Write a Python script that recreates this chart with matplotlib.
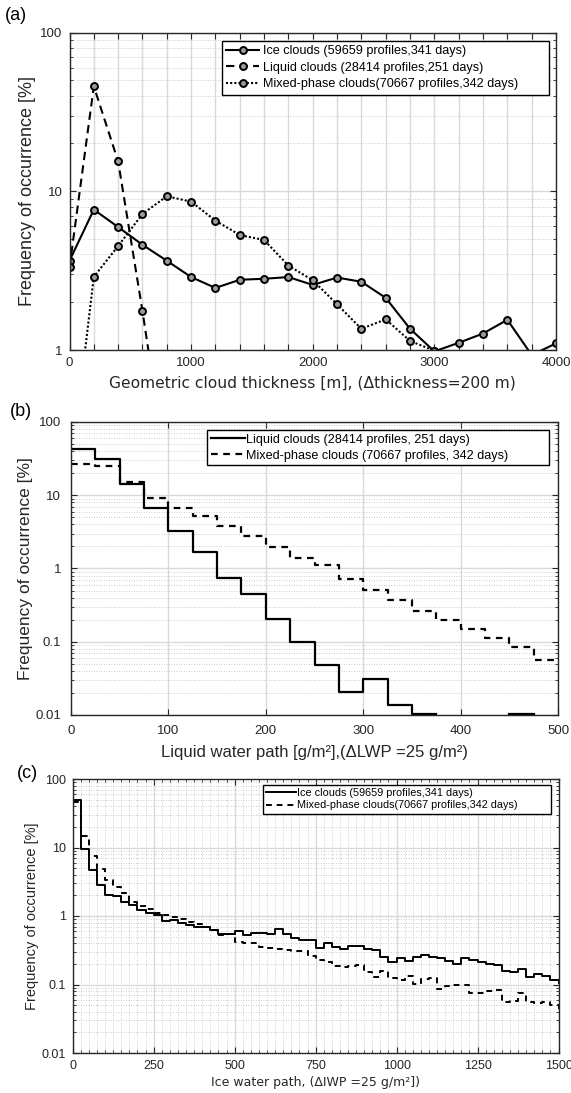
import matplotlib
matplotlib.use('Agg')
import matplotlib.pyplot as plt
import numpy as np
from matplotlib.ticker import FuncFormatter, LogLocator, NullFormatter, MultipleLocator

plt.rcParams['font.family'] = ['Liberation Sans', 'DejaVu Sans']

# (a) geometric thickness, bins of 200 m
thick = [0, 200, 400, 600, 800, 1000, 1200, 1400, 1600, 1800, 2000,
         2200, 2400, 2600, 2800, 3000, 3200, 3400, 3600, 3800, 4000]
ice_thick = [3.65, 7.66, 5.95, 4.6, 3.65, 2.88, 2.46, 2.77, 2.81, 2.88, 2.57,
             2.86, 2.69, 2.13, 1.36, 0.98, 1.11, 1.27, 1.55, 0.93, 1.1]
liq_x = [0, 200, 400, 600, 800]
liq_thick = [3.31, 45.8, 15.4, 1.76, 0.17]
mix_x = [0, 200, 400, 600, 800, 1000, 1200, 1400, 1600, 1800, 2000,
         2200, 2400, 2600, 2800, 3000, 3200]
mix_thick = [0.15, 2.89, 4.52, 7.19, 9.3, 8.6, 6.53, 5.3, 4.93, 3.4, 2.75,
             1.94, 1.36, 1.56, 1.14, 0.99, 0.6]

# (b) liquid water path, bins of 25 g/m2
lwp_edges = np.arange(0, 501, 25)
liq_lwp = [42.4, 31, 14.3, 6.65, 3.3, 1.69, 0.746, 0.442, 0.206, 0.1,
           0.0485, 0.0206, 0.0306, 0.0138, 0.0103, np.nan, np.nan, np.nan, 0.0103, np.nan]
mix_lwp = [26.5, 24.9, 15.0, 9.3, 6.7, 5.2, 3.78, 2.76, 1.97, 1.41,
           1.1, 0.716, 0.507, 0.37, 0.265, 0.2, 0.15, 0.113, 0.0845, 0.056]

# (c) ice water path, bins of 25 g/m2
iwp_edges = np.arange(0, 1501, 25)
ice_iwp = [50, 9.35, 4.7, 2.85, 2.05, 1.95, 1.6, 1.45, 1.22, 1.1,
           1.05, 0.85, 0.87, 0.8, 0.73, 0.68, 0.69, 0.63, 0.55, 0.55,
           0.6, 0.53, 0.56, 0.56, 0.54, 0.65, 0.55, 0.48, 0.45, 0.44,
           0.34, 0.41, 0.35, 0.33, 0.36, 0.37, 0.33, 0.32, 0.25, 0.21,
           0.24, 0.22, 0.25, 0.27, 0.25, 0.24, 0.22, 0.2, 0.24, 0.23,
           0.21, 0.2, 0.19, 0.16, 0.15, 0.17, 0.13, 0.14, 0.135, 0.116]
mix_iwp = [46, 14.5, 7.4, 4.9, 3.4, 2.64, 2.2, 1.6, 1.4, 1.25,
           1.12, 1.03, 0.97, 0.9, 0.82, 0.76, 0.7, 0.63, 0.52, 0.55,
           0.42, 0.41, 0.4, 0.35, 0.34, 0.33, 0.32, 0.31, 0.31, 0.26,
           0.23, 0.21, 0.185, 0.18, 0.185, 0.19, 0.15, 0.13, 0.16, 0.125,
           0.118, 0.133, 0.103, 0.12, 0.125, 0.087, 0.095, 0.098, 0.098, 0.076,
           0.074, 0.08, 0.083, 0.056, 0.057, 0.074, 0.055, 0.053, 0.055, 0.05]
ice_end, mix_end = 0.105, 0.038

W, H = 571, 1093
fig = plt.figure(figsize=(W / 100, H / 100), dpi=100)


def axes_px(l, t, r, b):
    return fig.add_axes([l / W, 1 - b / H, (r - l) / W, (b - t) / H])


def style(ax, tsize, pad):
    ax.set_yscale('log')
    ax.yaxis.set_major_locator(LogLocator(base=10))
    ax.yaxis.set_minor_locator(LogLocator(base=10, subs=np.arange(2, 10)))
    ax.yaxis.set_minor_formatter(NullFormatter())
    ax.yaxis.set_major_formatter(FuncFormatter(lambda v, p: '%g' % v))
    ax.tick_params(which='both', direction='in', top=True, right=True,
                   labelsize=tsize, colors='#262626', pad=pad)
    ax.tick_params(which='major', length=4, width=0.8)
    ax.tick_params(which='minor', length=2, width=0.6)
    for s in ax.spines.values():
        s.set_color('#262626')
        s.set_linewidth(1.0)
    ax.grid(True, which='major', color='#d9d9d9', lw=1.0, ls='-')
    ax.grid(True, which='minor', axis='y', color='#bdbdbd', lw=0.6, ls=(0, (1, 2)))
    ax.set_axisbelow(True)


def legend_px(ax, l, t, r, lw_ax, fs, **kw):
    # legend box placed from pixel edges; expand mode leaves blank room on the right
    x0, x1 = ax.get_position().x0 * W, ax.get_position().x1 * W
    y1 = (1 - ax.get_position().y1) * H
    y0 = (1 - ax.get_position().y0) * H
    bx = (l - x0) / (x1 - x0)
    bw = (r - l) / (x1 - x0)
    top = 1 - (t - y1) / (y0 - y1)
    return ax.legend(loc='upper left', bbox_to_anchor=(bx, 0, bw, top), mode='expand',
                     borderaxespad=0, fontsize=fs, fancybox=False, edgecolor='k',
                     framealpha=1, **kw)


# ---- (a)
ax1 = axes_px(69.5, 32.5, 556, 350)
style(ax1, 9.5, 5)
mk = dict(marker='o', ms=5, mfc='#9a9a9a', mec='k', mew=1.4, color='k', lw=1.5)
ax1.plot(thick, ice_thick, ls='-', label='Ice clouds (59659 profiles,341 days)', **mk)
ax1.plot(liq_x, liq_thick, ls=(0, (4, 2.5)), label='Liquid clouds (28414 profiles,251 days)', **mk)
ax1.plot(mix_x, mix_thick, ls=(0, (1, 1)), label='Mixed-phase clouds(70667 profiles,342 days)', **mk)
ax1.set_xlim(0, 4000)
ax1.set_ylim(1, 100)
ax1.xaxis.set_major_locator(MultipleLocator(200))
ax1.xaxis.set_major_formatter(FuncFormatter(lambda v, p: '%d' % v if v % 1000 == 0 else ''))
ax1.set_xlabel('Geometric cloud thickness [m], (\u0394thickness=200 m)',
               family='DejaVu Sans', fontsize=11.2, color='#262626', labelpad=5)
ax1.set_ylabel('Frequency of occurrence [%]', fontsize=13, color='#262626', labelpad=3)
legend_px(ax1, 222, 41, 549, 1, 9.1, handlelength=2.6, handletextpad=0.3,
          labelspacing=0.35, borderpad=0.35)
fig.text(5 / W, 1 - 15 / H, '(a)', fontsize=13, va='center', ha='left')

# ---- (b)
ax2 = axes_px(71, 422, 558, 715)
style(ax2, 9.5, 7)
ax2.step(lwp_edges, liq_lwp + [liq_lwp[-1]], where='post', color='k', lw=1.6,
         label='Liquid clouds (28414 profiles, 251 days)')
ax2.step(lwp_edges, mix_lwp + [mix_lwp[-1]], where='post', color='k', lw=1.6,
         ls=(0, (3, 2.5)), label='Mixed-phase clouds (70667 profiles, 342 days)')
ax2.set_xlim(0, 500)
ax2.set_ylim(0.01, 100)
ax2.xaxis.set_major_locator(MultipleLocator(100))
ax2.set_xlabel('Liquid water path [g/m\u00b2],(\u0394LWP =25 g/m\u00b2)',
               fontsize=12, color='#262626', labelpad=6)
ax2.set_ylabel('Frequency of occurrence [%]', fontsize=12.5, color='#262626', labelpad=2)
legend_px(ax2, 207, 430, 549, 1, 9.1, handlelength=2.7, handletextpad=0.1,
          labelspacing=0.3, borderpad=0.3)
fig.text(10 / W, 1 - 412 / H, '(b)', fontsize=13, va='center', ha='left')

# ---- (c)
ax3 = axes_px(72.7, 779, 558.5, 1053)
style(ax3, 9, 5)
ax3.step(iwp_edges, ice_iwp + [ice_end], where='post', color='k', lw=1.4,
         label='Ice clouds (59659 profiles,341 days)')
ax3.step(iwp_edges, mix_iwp + [mix_end], where='post', color='k', lw=1.4,
         ls=(0, (3, 2.5)), label='Mixed-phase clouds(70667 profiles,342 days)')
ax3.set_xlim(0, 1500)
ax3.set_ylim(0.01, 100)
ax3.xaxis.set_major_locator(MultipleLocator(250))
ax3.xaxis.set_minor_locator(MultipleLocator(25))
ax3.grid(True, which='minor', axis='x', color='#bdbdbd', lw=0.6, ls=(0, (1, 2)))
ax3.set_xlabel('Ice water path, (\u0394IWP =25 g/m\u00b2])',
               family='DejaVu Sans', fontsize=9, color='#262626', labelpad=3)
ax3.set_ylabel('Frequency of occurrence [%]', fontsize=10.5, color='#262626', labelpad=2)
legend_px(ax3, 263, 785, 551, 1, 7.8, handlelength=2.7, handletextpad=0.1,
          labelspacing=0.2, borderpad=0.3)
fig.text(17 / W, 1 - 773 / H, '(c)', fontsize=13, va='center', ha='left')

fig.savefig('out.png', dpi=100)
